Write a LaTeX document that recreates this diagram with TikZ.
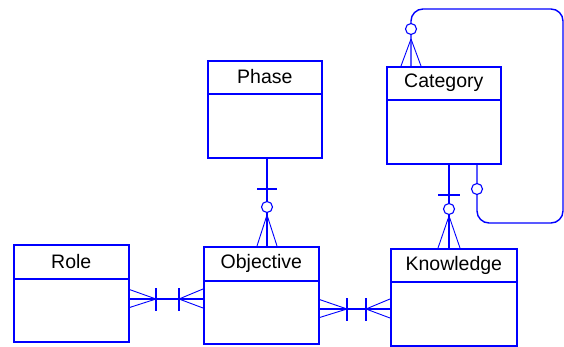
\documentclass[tikz,border=0pt]{standalone}
\usepackage{fontspec}
\setmainfont{Liberation Sans}
\begin{document}
\begin{tikzpicture}[x=1pt,y=-1pt,
  ebox/.style={draw=erblue, line width=1.6pt, fill=white, inner sep=0pt, anchor=north west},
  eline/.style={draw=erblue, line width=1.5pt},
  etitle/.style={inner sep=0pt, font=\fontsize{19.5}{20}\selectfont, text=black},
  rel/.style={draw=erblue, line width=1.4pt, line cap=rect},
  crow/.style={draw=erblue, line width=0.9pt},
  ring/.style={draw=erblue, line width=1.1pt, fill=white, circle, inner sep=0pt, minimum size=11pt},
]
\definecolor{erblue}{RGB}{0,0,255}
\useasboundingbox (0,0) rectangle (564,347);

% ---- connectors (drawn first) ----
% Phase - Objective
\coordinate (poTop) at (267,157);
\coordinate (poBot) at (267,246);
\draw[rel] (poTop) -- (poBot);
\draw[rel] (258,189) -- (276,189);
\draw[crow] (267,215) -- (257,246) (267,215) -- (277,246);
\node[ring] (poRing) at (267,207) {};

% Category - Knowledge
\coordinate (ckTop) at (449,163);
\coordinate (ckBot) at (449,248);
\draw[rel] (ckTop) -- (ckBot);
\draw[rel] (439,195) -- (459,195);
\draw[crow] (449,216) -- (438,248) (449,216) -- (460,248);
\node[ring] (ckRing) at (449,209) {};

% Category self relation
\coordinate (slA) at (411,66);
\coordinate (slB) at (477,163);
\draw[rel, rounded corners=12pt, line cap=butt] (slA) -- (411,9) -- (563,9) -- (563,223) -- (477,223) -- (slB);
\draw[crow] (411,39) -- (401,66) (411,39) -- (421,66);
\node[ring] (slRingA) at (411,29) {};
\node[ring] (slRingB) at (477,189) {};

% Role - Objective
\coordinate (roL) at (128,299);
\coordinate (roR) at (203,299);
\draw[rel] (roL) -- (roR);
\draw[rel] (156,289) -- (156,310);
\draw[rel] (179,289) -- (179,310);
\draw[crow] (156,299) -- (128,289) (156,299) -- (128,308);
\draw[crow] (179,299) -- (203,289) (179,299) -- (203,308);

% Objective - Knowledge
\coordinate (okL) at (318,309);
\coordinate (okR) at (390,309);
\draw[rel] (okL) -- (okR);
\draw[rel] (347,299) -- (347,320);
\draw[rel] (366,299) -- (366,320);
\draw[crow] (347,309) -- (318,299) (347,309) -- (318,318);
\draw[crow] (366,309) -- (390,299) (366,309) -- (390,318);

% ---- entities ----
\node[ebox, minimum width=115pt, minimum height=97pt] (role) at (13,244) {};
\draw[eline] ([yshift=-35pt]role.north west) -- ([yshift=-35pt]role.north east);
\node[etitle] (roleT) at ([yshift=-17.5pt]role.north) {Role};

\node[ebox, minimum width=115pt, minimum height=97pt] (obj) at (203,246) {};
\draw[eline] ([yshift=-35pt]obj.north west) -- ([yshift=-35pt]obj.north east);
\node[etitle] (objT) at ([yshift=-17.5pt]obj.north) {Objective};

\node[ebox, minimum width=126pt, minimum height=97pt] (know) at (390,248) {};
\draw[eline] ([yshift=-34pt]know.north west) -- ([yshift=-34pt]know.north east);
\node[etitle] (knowT) at ([yshift=-17pt]know.north) {Knowledge};

\node[ebox, minimum width=114pt, minimum height=97pt] (phase) at (207,60) {};
\draw[eline] ([yshift=-34pt]phase.north west) -- ([yshift=-34pt]phase.north east);
\node[etitle] (phaseT) at ([yshift=-17pt]phase.north) {Phase};

\node[ebox, minimum width=114pt, minimum height=97pt] (cat) at (386,66) {};
\draw[eline] ([yshift=-34pt]cat.north west) -- ([yshift=-34pt]cat.north east);
\node[etitle] (catT) at ([yshift=-17pt]cat.north) {Category};
\end{tikzpicture}
\end{document}
